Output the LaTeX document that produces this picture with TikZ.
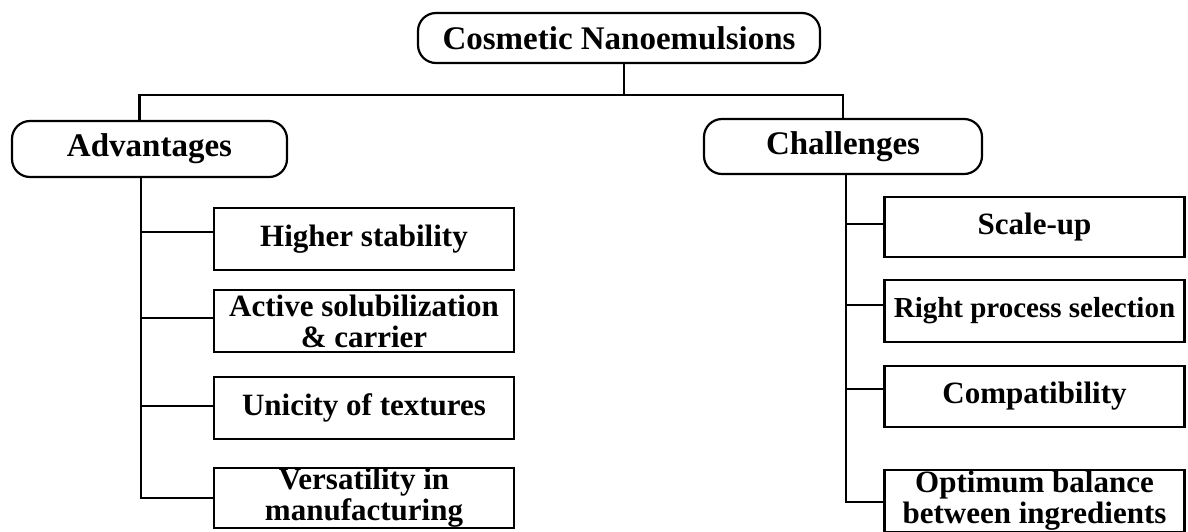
\documentclass[tikz,border=0pt]{standalone}
\usepackage{fontspec}
\setmainfont{Liberation Serif}
\begin{document}
\begin{tikzpicture}[x=1pt,y=-1pt,
  line width=2.2pt,
  head/.style={draw, rounded corners=18pt, inner sep=0pt,
    font=\fontsize{33}{36}\selectfont\bfseries},
  item/.style={draw, inner sep=0pt, minimum width=300pt, align=center,
    font=\fontsize{31}{31}\selectfont\bfseries},
]
\useasboundingbox (0,0) rectangle (1188,531);

% top level and the two groups
\node[head, minimum width=402pt, minimum height=50pt] (root) at (619,38) {Cosmetic Nanoemulsions};
\node[head, minimum width=275pt, minimum height=56pt] (adv) at (149.5,149) {Advantages};
\node[head, minimum width=278pt, minimum height=55pt] (chal) at (843,146.5) {Challenges};

% advantages
\node[item, minimum height=62pt] (hs) at (364,239) {Higher stability};
\node[item, minimum height=62pt] (as) at (364,321) {Active solubilization\\\& carrier};
\node[item, minimum height=62pt] (ut) at (364,408) {Unicity of textures};
\node[item, minimum height=60pt] (vm) at (364,498) {Versatility in\\manufacturing};

% challenges
\node[item, minimum height=60pt] (su) at (1034.5,227) {Scale-up};
\node[item, minimum height=62pt, font=\fontsize{29}{31}\selectfont\bfseries] (rp) at (1034.5,311) {Right process selection};
\node[item, minimum height=61pt] (co) at (1034.5,396.5) {Compatibility};
\node[item, minimum height=62pt] (ob) at (1034.5,501) {Optimum balance\\between ingredients};

% bus from the root to both groups
\coordinate (bus) at (0,95);
\draw ([xshift=5pt]root.south) -- ([xshift=5pt]root.south |- bus);
\draw ([xshift=-10pt]adv.north) |- (bus -| chal.north) -- (chal.north);

% left trunk and branches
\coordinate (ltrunk) at ([xshift=-8.5pt]adv.south);
\coordinate (hsb) at ([yshift=7pt]hs.west);
\coordinate (asb) at ([yshift=3pt]as.west);
\coordinate (utb) at ([yshift=2pt]ut.west);
\coordinate (vmb) at (vm.west);
\draw (ltrunk) -- (ltrunk |- vmb) -- (vmb);
\draw (hsb) -- (ltrunk |- hsb);
\draw (asb) -- (ltrunk |- asb);
\draw (utb) -- (ltrunk |- utb);

% right trunk and branches
\coordinate (rtrunk) at ([xshift=3pt]chal.south);
\coordinate (sub) at ([yshift=3pt]su.west);
\coordinate (rpb) at ([yshift=6pt]rp.west);
\coordinate (cob) at ([yshift=7.5pt]co.west);
\coordinate (obb) at ([yshift=-1pt]ob.west);
\draw (rtrunk) -- (rtrunk |- obb) -- (obb);
\draw (sub) -- (rtrunk |- sub);
\draw (rpb) -- (rtrunk |- rpb);
\draw (cob) -- (rtrunk |- cob);
\end{tikzpicture}
\end{document}
